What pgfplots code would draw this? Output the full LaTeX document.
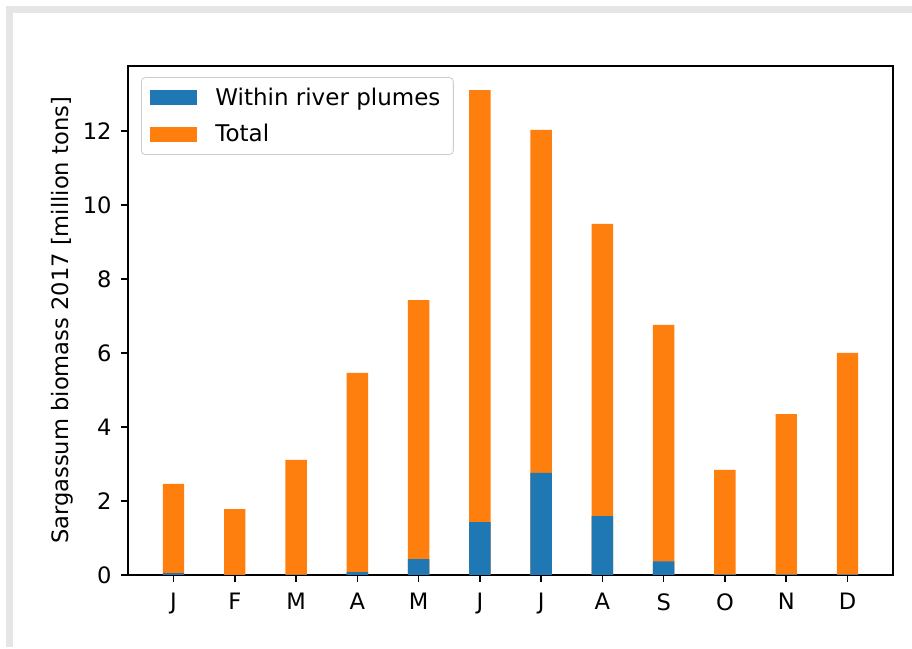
\documentclass[border=0pt]{standalone}
\usepackage{pgfplots}
\pgfplotsset{compat=1.18}
\usepackage{fontspec}
\setmainfont{DejaVu Sans}
\definecolor{mplblue}{HTML}{1F77B4}
\definecolor{mplorange}{HTML}{FF7F0E}
\begin{document}
\begin{tikzpicture}
\useasboundingbox[fill=white] (-64pt,-37pt) rectangle (392pt,287.5pt);
\draw[line width=3.5pt, black!10] (-59pt,-36pt) -- (-59pt,282.5pt) -- (392pt,282.5pt);
\begin{axis}[
  at={(0,0)}, anchor=south west,
  scale only axis,
  width=382.5pt, height=254.5pt,
  xmin=-0.7425, xmax=11.7425,
  ymin=0, ymax=13.755,
  xtick={0,1,2,3,4,5,6,7,8,9,10,11},
  xticklabels={J,F,M,A,M,J,J,A,S,O,N,D},
  ytick={0,2,4,6,8,10,12},
  tick align=outside,
  xtick pos=bottom, ytick pos=left,
  major tick length=3.5pt,
  tick style={line width=0.8pt, black},
  axis line style={line width=0.8pt},
  /pgf/number format/assume math mode=true,
  font=\fontsize{11.3pt}{13pt}\selectfont,
  xticklabel style={inner sep=0pt, anchor=north, yshift=-5.5pt},
  yticklabel style={inner sep=0pt, anchor=east, xshift=-4.5pt},
  ylabel={Sargassum biomass 2017 [million tons]},
  every axis y label/.style={at={(rel axis cs:-0.0863,0.5)}, rotate=90, anchor=center},
  ybar, bar width=0.35, bar shift=0pt,
  reverse legend,
  legend style={at={(0.017,0.978)}, anchor=north west, draw=black!20, rounded corners=2pt,
    fill=white, inner xsep=4.5pt, inner ysep=3pt, row sep=4pt,
    font=\fontsize{11.5pt}{13pt}\selectfont},
  legend cell align=left,
  legend image code/.code={\fill[#1, draw=none, sharp corners] (0pt,-3.75pt) rectangle (23.5pt,3.75pt);
    \path[draw=none, fill=none] (0pt,0pt) rectangle (30.5pt,0.1pt);},
]
\addplot[fill=mplorange, draw=none] coordinates {
(0,2.46) (1,1.78) (2,3.11) (3,5.46) (4,7.43) (5,13.1) (6,12.03) (7,9.49) (8,6.76) (9,2.84) (10,4.35) (11,6.0)};
\addlegendentry{Total}
\addplot[fill=mplblue, draw=none] coordinates {
(0,0.05) (1,0.0) (2,0.01) (3,0.08) (4,0.43) (5,1.43) (6,2.76) (7,1.59) (8,0.37) (9,0.02) (10,0.02) (11,0.02)};
\addlegendentry{Within river plumes}
\end{axis}
\end{tikzpicture}
\end{document}
